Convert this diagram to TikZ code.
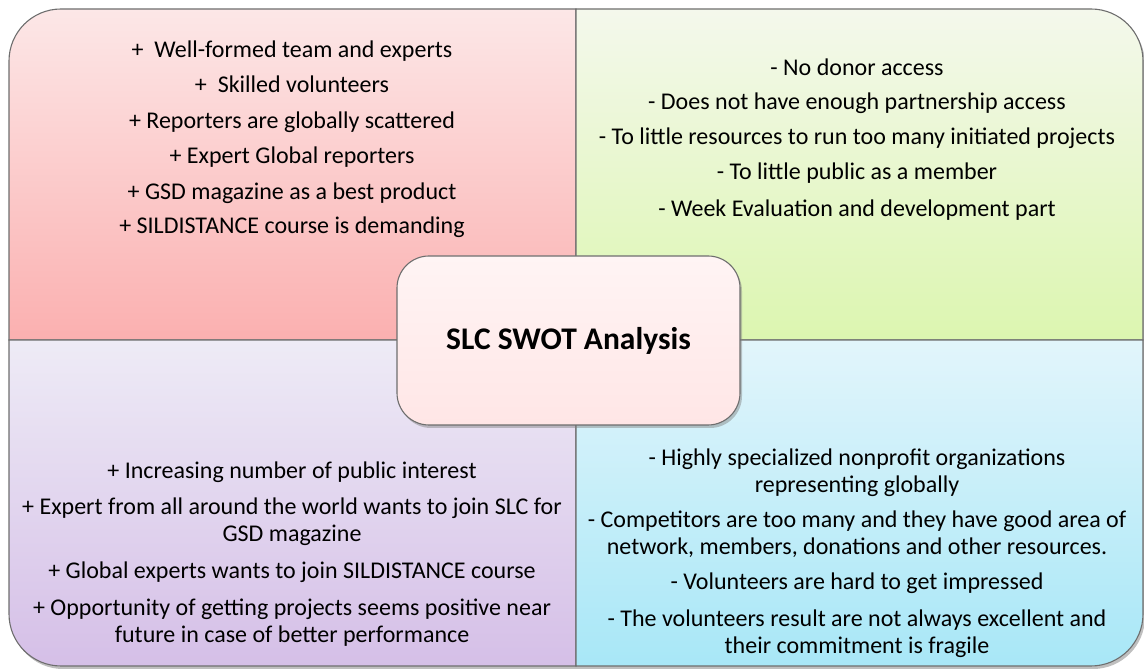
\documentclass[tikz,border=0pt]{standalone}
\usepackage{fontspec}
\setmainfont{Carlito}
\usetikzlibrary{shadows}

\definecolor{edge}{HTML}{6E6E6E}
\definecolor{stTop}{HTML}{FCE7E7}
\definecolor{stBot}{HTML}{FBB0B0}
\definecolor{wkTop}{HTML}{F4F8EC}
\definecolor{wkBot}{HTML}{DCF6B0}
\definecolor{opTop}{HTML}{EEEBF6}
\definecolor{opBot}{HTML}{D5BFE7}
\definecolor{thTop}{HTML}{E2F5FB}
\definecolor{thBot}{HTML}{A8E7F7}
\definecolor{hubTop}{HTML}{FFF4F4}
\definecolor{hubBot}{HTML}{FFE6E6}

\tikzset{
  quadline/.style={draw=edge, line width=1.1pt},
  quadtext/.style={align=center, font=\fontsize{24}{27}\selectfont, text=black},
  hubbox/.style={draw=edge, line width=1.1pt, rounded corners=32pt,
    minimum width=343pt, minimum height=169pt,
    top color=hubTop, bottom color=hubBot,
    drop shadow={shadow xshift=2pt, shadow yshift=-3pt, opacity=.45},
    font=\fontsize{31.5}{36}\selectfont\bfseries},
}

\begin{document}
\begin{tikzpicture}[x=1pt,y=1pt]
  \useasboundingbox (0,0) rectangle (1144,671);
  % outline geometry
  \def\Lx{9} \def\Rx{1143} \def\Ty{662} \def\By{5}
  \def\Mx{576} \def\My{331} \def\rr{52}

  % soft shadow under the whole grid
  \fill[black, opacity=.25]
    (\Lx+2,\By-3+\rr) -- (\Lx+2,\Ty-3-\rr) arc[start angle=180,end angle=90,radius=\rr pt]
    -- (\Rx+2-\rr,\Ty-3) arc[start angle=90,end angle=0,radius=\rr pt]
    -- (\Rx+2,\By-3+\rr) arc[start angle=0,end angle=-90,radius=\rr pt]
    -- (\Lx+2+\rr,\By-3) arc[start angle=270,end angle=180,radius=\rr pt] -- cycle;

  % strengths (top left)
  \path[quadline, top color=stTop, bottom color=stBot]
    (\Mx,\My) -- (\Lx,\My) -- (\Lx,\Ty-\rr)
    arc[start angle=180,end angle=90,radius=\rr pt] -- (\Mx,\Ty) -- cycle;
  % weaknesses (top right)
  \path[quadline, top color=wkTop, bottom color=wkBot]
    (\Mx,\My) -- (\Mx,\Ty) -- (\Rx-\rr,\Ty)
    arc[start angle=90,end angle=0,radius=\rr pt] -- (\Rx,\My) -- cycle;
  % opportunities (bottom left)
  \path[quadline, top color=opTop, bottom color=opBot]
    (\Mx,\My) -- (\Lx,\My) -- (\Lx,\By+\rr)
    arc[start angle=180,end angle=270,radius=\rr pt] -- (\Mx,\By) -- cycle;
  % threats (bottom right)
  \path[quadline, top color=thTop, bottom color=thBot]
    (\Mx,\My) -- (\Rx,\My) -- (\Rx,\By+\rr)
    arc[start angle=0,end angle=-90,radius=\rr pt] -- (\Mx,\By) -- cycle;

  \node[quadtext] (strengths) at (292,532) {%
    +\ \ Well-formed team and experts\\[8pt]
    +\ \ Skilled volunteers\\[9pt]
    + Reporters are globally scattered\\[8pt]
    + Expert Global reporters\\[9pt]
    + GSD magazine as a best product\\[7pt]
    + SILDISTANCE course is demanding};

  \node[quadtext] (weaknesses) at (857,531) {%
    - No donor access\\[7pt]
    - Does not have enough partnership access\\[8pt]
    - To little resources to run too many initiated projects\\[8pt]
    - To little public as a member\\[10pt]
    - Week Evaluation and development part};

  \node[quadtext] (opportunities) at (292,117) {%
    + Increasing number of public interest\\[9pt]
    + Expert from all around the world wants to join SLC for\\
    GSD magazine\\[10pt]
    + Global experts wants to join SILDISTANCE course\\[10pt]
    + Opportunity of getting projects seems positive near\\
    future in case of better performance};

  \node[quadtext] (threats) at (857,118) {%
    - Highly specialized nonprofit organizations\\
    representing globally\\[8pt]
    - Competitors are too many and they have good area of\\
    network, members, donations and other resources.\\[8pt]
    - Volunteers are hard to get impressed\\[10pt]
    - The volunteers result are not always excellent and\\
    their commitment is fragile};

  \node[hubbox] (hub) at (568.5,330.5) {SLC SWOT Analysis};
\end{tikzpicture}
\end{document}
